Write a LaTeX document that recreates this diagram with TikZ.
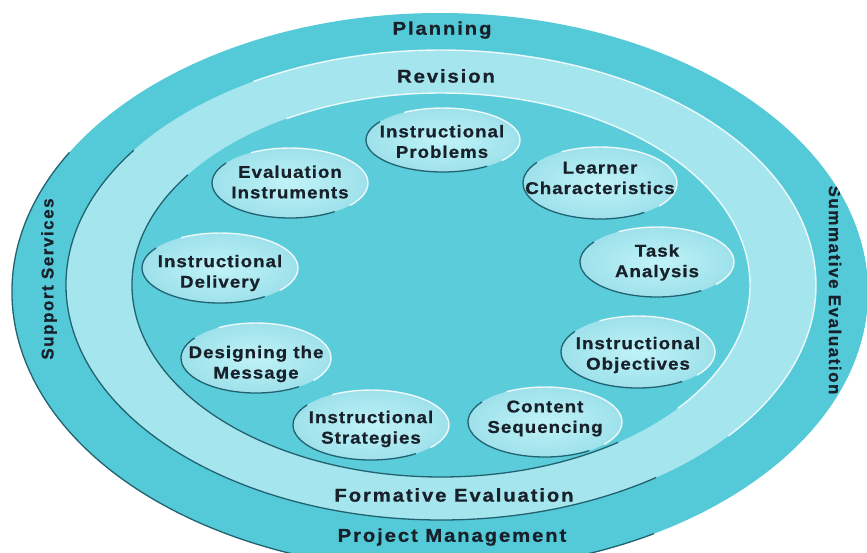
\documentclass[tikz,border=0pt]{standalone}
\usepackage{fontspec}
\newfontfamily\nodefont{Liberation Sans}[FakeStretch=1.1,LetterSpace=6,BoldFeatures={FakeBold=0.8}]
\newfontfamily\ringfont{Liberation Sans}[FakeStretch=1.1,LetterSpace=10,BoldFeatures={FakeBold=0.8}]
\newfontfamily\sidefont{Liberation Sans}[LetterSpace=9,BoldFeatures={FakeBold=0.8}]
\definecolor{ringdark}{RGB}{84,201,216}
\definecolor{ringlight}{RGB}{165,230,238}
\definecolor{innerdark}{RGB}{90,204,218}
\definecolor{bubin}{RGB}{192,243,248}
\definecolor{bubout}{RGB}{158,225,235}
\definecolor{edgedark}{RGB}{34,98,112}
\definecolor{txt}{RGB}{24,32,42}
\newcommand\myrim[4]{%
  \draw[hi] (#1,#2) ++(-40:#3 and #4) arc[start angle=-40,end angle=120,x radius=#3,y radius=#4];
  \draw[lo] (#1,#2) ++(145:#3 and #4) arc[start angle=145,end angle=305,x radius=#3,y radius=#4];}
\newcommand\mybub[4]{%
  \shade[inner color=bubin,outer color=bubout] (#1,#2) ellipse [x radius=#3,y radius=#4];
  \myrim{#1}{#2}{#3}{#4}}
\begin{document}
\begin{tikzpicture}[x=1pt,y=1pt,
  lbl/.style={text=txt, font=\nodefont\bfseries\fontsize{17}{20.5}\selectfont, align=center, inner sep=0pt},
  ringlbl/.style={text=txt, font=\ringfont\bfseries\fontsize{18.5}{22}\selectfont, inner sep=0pt},
  sidelbl/.style={text=txt, font=\sidefont\bfseries\fontsize{17}{20}\selectfont, inner sep=0pt},
  hi/.style={draw=white, draw opacity=0.85, line width=1.4pt},
  lo/.style={draw=edgedark, line width=1.3pt}]
\useasboundingbox (0,0) rectangle (867,-552);
\fill[white] (0,0) rectangle (867,-552);
% outer ring
\fill[ringdark] (440,-292) ellipse [x radius=428, y radius=279];
\draw[lo] (440,-292) ++(150:428 and 279) arc[start angle=150,end angle=300,x radius=428,y radius=279];
% light ring
\fill[ringlight] (441,-285) ellipse [x radius=375, y radius=235];
\myrim{441}{-285}{375}{235}
% inner region
\fill[innerdark] (441,-285) ellipse [x radius=309, y radius=192];
\myrim{441}{-285}{309}{192}
% bubbles
\mybub{443}{-140}{77}{32}
\mybub{600}{-183}{77}{36}
\mybub{657}{-262}{77}{35}
\mybub{638}{-352}{77}{36}
\mybub{545}{-422}{77}{35}
\mybub{371}{-425}{78}{35}
\mybub{256}{-358}{75}{35}
\mybub{220}{-268}{78}{35}
\mybub{290}{-183}{78}{35}
% bubble labels
\node[lbl] (ip) at (442,-141.5) {Instructional\\Problems};
\node[lbl] (lc) at (600,-178) {Learner\\Characteristics};
\node[lbl] (ta) at (657,-262.5) {Task\\Analysis};
\node[lbl] (io) at (638,-355) {Instructional\\Objectives};
\node[lbl] (cs) at (545,-418.5) {Content\\Sequencing};
\node[lbl] (is) at (371,-429) {Instructional\\Strategies};
\node[lbl] (dm) at (256,-364) {Designing the\\Message};
\node[lbl] (id) at (220,-273) {Instructional\\Delivery};
\node[lbl] (ei) at (290,-182) {Evaluation\\Instruments};
% ring labels
\node[ringlbl] (pl) at (442,-30) {Planning};
\node[ringlbl] (rv) at (446,-76) {Revision};
\node[ringlbl] (fe) at (454,-495) {Formative Evaluation};
\node[ringlbl] (pm) at (452,-537) {Project Management};
\node[sidelbl, rotate=90] (ss) at (49,-279) {Support Services};
\begin{scope}
\clip (440,-292) ellipse [x radius=428, y radius=279];
\node[sidelbl, rotate=-90] (se) at (835,-290) {Summative Evaluation};
\end{scope}
\end{tikzpicture}
\end{document}
